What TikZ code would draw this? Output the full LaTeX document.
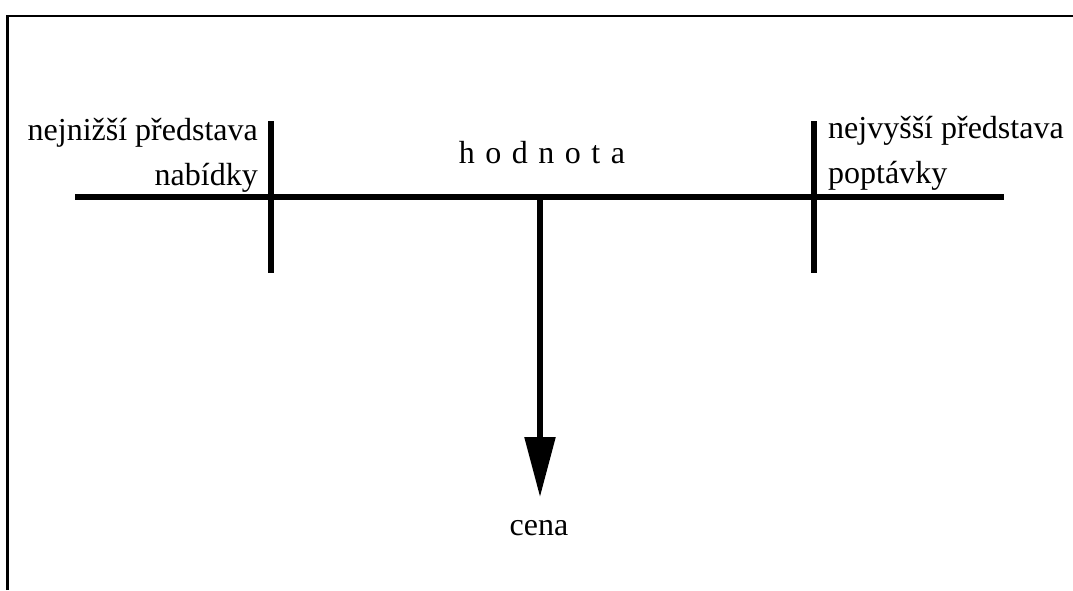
\documentclass[tikz,border=0pt]{standalone}
\usepackage{fontspec}
\setmainfont{Liberation Serif}
\usetikzlibrary{arrows.meta}
\begin{document}
\begin{tikzpicture}[x=1pt,y=-1pt,
  lbl/.style={inner sep=0pt,font=\fontsize{32}{46}\selectfont},
  frame/.style={line width=2.5pt},
  bar/.style={line width=5.5pt}]
\useasboundingbox (0,0) rectangle (1073,590);
% frame
\coordinate (fbl) at (7.5,590);
\coordinate (ftl) at (7.5,16);
\coordinate (ftr) at (1073,16);
\draw[frame] (fbl) -- (ftl) -- (ftr);
% main axis
\coordinate (hl) at (75,197);
\coordinate (hr) at (1004,197);
\draw[bar] (hl) -- (hr);
\coordinate (lt) at (271,121);
\coordinate (lb) at (271,273);
\draw[bar] (lt) -- (lb);
\coordinate (rt) at (814,121);
\coordinate (rb) at (814,273);
\draw[bar] (rt) -- (rb);
\coordinate (stem) at (540,197);
\coordinate (tip) at (540,497);
\draw[bar,-{Triangle[length=60pt,width=30pt]}] (stem) -- (tip);
% labels
\node[lbl,anchor=base east] (l1) at (258,140) {nejnižší představa};
\node[lbl,anchor=base east] (l2) at (258,185) {nabídky};
\node[lbl,anchor=base west] (r1) at (828,138) {nejvyšší představa};
\node[lbl,anchor=base west] (r2) at (828,183) {poptávky};
\node[lbl,anchor=base] (hod) at (542,163) {\spaceskip=10.5pt h o d n o t a};
\node[lbl,anchor=base] (cena) at (539,535) {cena};
\end{tikzpicture}
\end{document}
